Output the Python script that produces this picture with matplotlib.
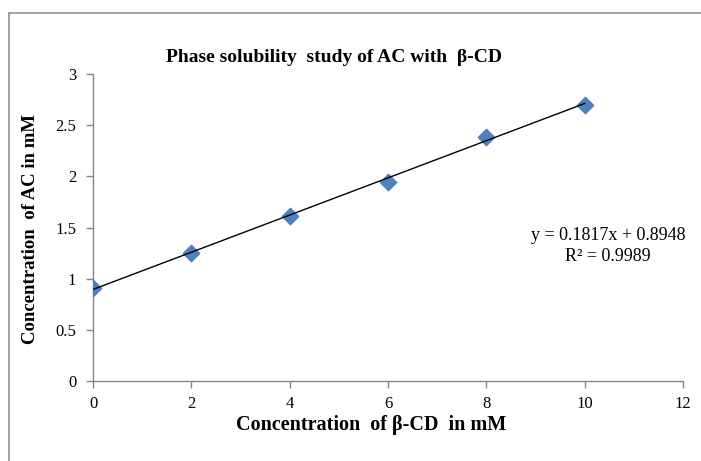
import matplotlib
matplotlib.use("Agg")
import matplotlib.pyplot as plt
from matplotlib.lines import Line2D
import numpy as np

# Phase solubility data
beta_cd_mM = [0, 2, 4, 6, 8, 10]
ac_mM = [0.906, 1.248, 1.615, 1.948, 2.381, 2.697]

# Linear trendline parameters
slope = 0.1817
intercept = 0.8948
r_squared = 0.9989

x_ticks = [0, 2, 4, 6, 8, 10, 12]
y_ticks = [0, 0.5, 1, 1.5, 2, 2.5, 3]
y_tick_labels = ["0", "0.5", "1", "1.5", "2", "2.5", "3"]

plt.rcParams["font.family"] = ["Liberation Serif", "DejaVu Serif"]

W, H = 701, 461
fig = plt.figure(figsize=(W / 100, H / 100), dpi=100)
fig.patch.set_facecolor("white")

# outer chart frame (top and left edges visible)
frame_kw = dict(transform=fig.transFigure, color="#9a9a9a", linewidth=1.3)
fig.add_artist(Line2D([9 / W, 1.0], [1 - 13 / H, 1 - 13 / H], **frame_kw))
fig.add_artist(Line2D([9 / W, 9 / W], [0.0, 1 - 13 / H], **frame_kw))

ax = fig.add_axes([93 / W, 1 - 381 / H, 590 / W, 307 / H])
ax.set_xlim(0, 12)
ax.set_ylim(0, 3)

grey = "#868686"
for s in ["top", "right"]:
    ax.spines[s].set_visible(False)
for s in ["left", "bottom"]:
    ax.spines[s].set_color(grey)
    ax.spines[s].set_linewidth(1.0)

ax.set_xticks(x_ticks)
ax.set_xticklabels([str(t) for t in x_ticks])
ax.set_yticks(y_ticks)
ax.set_yticklabels(y_tick_labels)
ax.tick_params(axis="both", direction="out", length=5, width=1.0, color=grey,
               labelsize=12, labelcolor="black")
ax.tick_params(axis="x", pad=6)
ax.tick_params(axis="y", pad=7)

ax.scatter(beta_cd_mM, ac_mM, marker="D", s=70, color="#4F81BD",
           edgecolors="#4F81BD", zorder=3)

xf = np.array([min(beta_cd_mM), max(beta_cd_mM)])
ax.plot(xf, slope * xf + intercept, color="black", linewidth=1.0, zorder=4)

ax.text(10.47, 1.32, f"y = {slope:.4f}x + {intercept:.4f}\nR² = {r_squared:.4f}",
        ha="center", va="center", fontsize=13, linespacing=1.25)

fig.text(334 / W, 1 - 58 / H, "Phase solubility  study of AC with  β-CD",
         ha="center", va="center", fontsize=14, fontweight="bold")

fig.text(371 / W, 1 - 425 / H, "Concentration  of β-CD  in mM",
         ha="center", va="center", fontsize=14.5, fontweight="bold")
fig.text(31 / W, 1 - 229 / H, "Concentration  of AC in mM",
         ha="center", va="center", fontsize=13.5, fontweight="bold", rotation=90)

fig.savefig("out.png", dpi=100, facecolor="white")
